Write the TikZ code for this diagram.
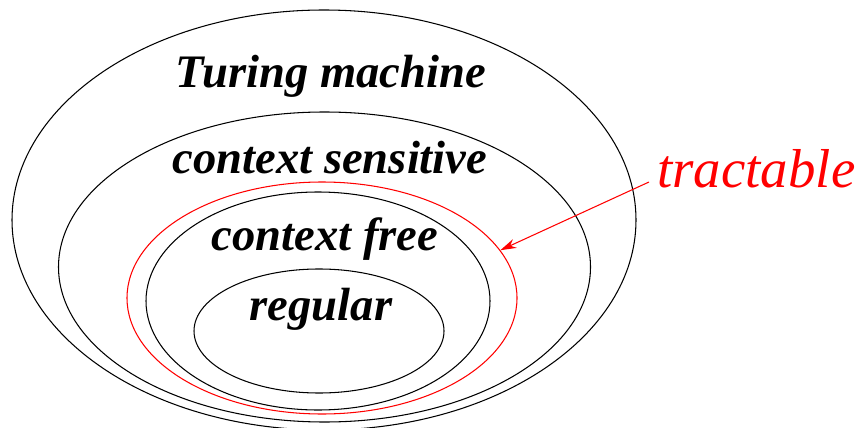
\documentclass[tikz,border=0pt]{standalone}
\usepackage{fontspec}
\setmainfont{Liberation Serif}
\usepackage{tikz}
\usetikzlibrary{positioning,arrows.meta,shapes.geometric}
\tikzset{
  langset/.style={draw, ellipse, inner sep=0pt, line width=0.6pt},
  langlabel/.style={font=\fontsize{26.5}{30}\selectfont\bfseries\itshape, anchor=base, inner sep=0pt},
  tractlabel/.style={font=\fontsize{31.2}{36}\selectfont\itshape, text=red, anchor=base west, inner sep=0.16cm},
  tractarrow/.style={-{Stealth[length=3.2mm, width=1.9mm]}, red, line width=0.6pt},
}

\begin{document}
\begin{tikzpicture}
  \useasboundingbox (0,0) rectangle (17.12,8.54);
  % the nested classes
  \node[langset, minimum width=12.48cm, minimum height=8.4cm] (tm) at (6.48,4.14) {};
  \node[langset, minimum width=10.64cm, minimum height=6.2cm] (cs) at (6.49,3.20) {};
  \node[langset, red, minimum width=7.8cm, minimum height=4.64cm] (tract) at (6.44,2.58) {};
  \node[langset, minimum width=6.88cm, minimum height=4.36cm] (cf) at (6.36,2.52) {};
  \node[langset, minimum width=5.0cm, minimum height=2.48cm] (reg) at (6.38,1.92) {};
  % names
  \node[langlabel] (tmtext) at (6.62,6.78) {Turing machine};
  \node[langlabel] (cstext) at (6.60,5.06) {context sensitive};
  \node[langlabel] (cftext) at (6.50,3.54) {context free};
  \node[langlabel] (regtext) at (6.42,2.14) {regular};
  % tractable
  \node[tractlabel] (tracttext) at (12.98,4.78) {tractable};
  \draw[tractarrow] ([yshift=1.2mm]tracttext.base west) -- (tract.15);
\end{tikzpicture}
\end{document}
